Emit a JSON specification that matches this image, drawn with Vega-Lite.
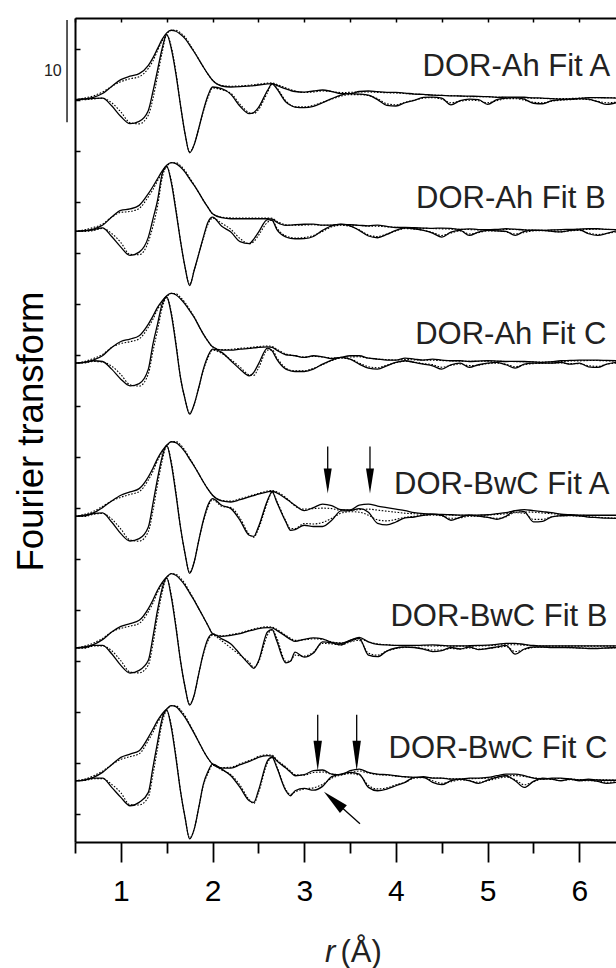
{
"$schema":"https://vega.github.io/schema/vega-lite/v6.json",
"width":541,"height":824,
"autosize":{"type":"none"},
"padding":{"left":75,"top":18,"right":0,"bottom":126},
"background":"white",
"config":{"view":{"stroke":null},"font":"Liberation Sans","axis":{"domainColor":"black","tickColor":"black","domainWidth":2,"tickWidth":1.5,"grid":false,"labelFont":"Liberation Sans","titleFont":"Liberation Sans","labelColor":"black","titleColor":"black"}},
"datasets":{
"ft":[
{"s":1,"r":0.5,"m":75,"n":75,"i":75,"j":75},
{"s":1,"r":0.6,"m":75.07,"n":75.15,"i":75.05,"j":75},
{"s":1,"r":0.7,"m":75.23,"n":75.38,"i":75.12,"j":75.07},
{"s":1,"r":0.8,"m":75.6,"n":75.75,"i":75.15,"j":75.15},
{"s":1,"r":0.9,"m":76.3,"n":76.3,"i":74.4,"j":74.7},
{"s":1,"r":1.0,"m":76.96,"n":76.76,"i":73.35,"j":73.8},
{"s":1,"r":1.1,"m":77.3,"n":77.05,"i":72.65,"j":72.75},
{"s":1,"r":1.2,"m":77.55,"n":77.25,"i":72.88,"j":72.63},
{"s":1,"r":1.3,"m":78.37,"n":78.07,"i":73.95,"j":73.5},
{"s":1,"r":1.35,"m":79.1,"n":78.8,"i":75.8,"j":75.1},
{"s":1,"r":1.4,"m":80.0,"n":79.8,"i":77.9,"j":77.3},
{"s":1,"r":1.45,"m":80.9,"n":80.75,"i":80.0,"j":79.6},
{"s":1,"r":1.5,"m":81.54,"n":81.44,"i":81.4,"j":81.3},
{"s":1,"r":1.55,"m":81.8,"n":81.8,"i":80.0,"j":80.2},
{"s":1,"r":1.6,"m":81.7,"n":81.8,"i":77.55,"j":77.75},
{"s":1,"r":1.65,"m":81.4,"n":81.55,"i":74.5,"j":74.5},
{"s":1,"r":1.7,"m":80.98,"n":81.13,"i":71.67,"j":71.67},
{"s":1,"r":1.75,"m":80.35,"n":80.45,"i":69.8,"j":69.9},
{"s":1,"r":1.8,"m":79.67,"n":79.72,"i":70.6,"j":70.6},
{"s":1,"r":1.85,"m":78.95,"n":78.95,"i":72.2,"j":72.2},
{"s":1,"r":1.9,"m":78.2,"n":78.2,"i":73.95,"j":73.85},
{"s":1,"r":1.95,"m":77.5,"n":77.5,"i":75.4,"j":75.2},
{"s":1,"r":2.0,"m":76.9,"n":76.9,"i":76.24,"j":76.14},
{"s":1,"r":2.1,"m":76.34,"n":76.39,"i":76.08,"j":75.98},
{"s":1,"r":2.2,"m":76.24,"n":76.32,"i":75.52,"j":75.62},
{"s":1,"r":2.3,"m":76.27,"n":76.35,"i":74.35,"j":74.55},
{"s":1,"r":2.4,"m":76.34,"n":76.42,"i":73.63,"j":73.73},
{"s":1,"r":2.45,"m":76.38,"n":76.46,"i":73.75,"j":73.65},
{"s":1,"r":2.5,"m":76.44,"n":76.52,"i":74.22,"j":74.02},
{"s":1,"r":2.6,"m":76.54,"n":76.62,"i":75.92,"j":75.72},
{"s":1,"r":2.65,"m":76.57,"n":76.65,"i":76.55,"j":76.55},
{"s":1,"r":2.7,"m":76.4,"n":76.5,"i":76.08,"j":76.18},
{"s":1,"r":2.8,"m":76.05,"n":76.15,"i":74.77,"j":74.87},
{"s":1,"r":2.85,"m":75.9,"n":75.98,"i":74.45,"j":74.5},
{"s":1,"r":2.9,"m":75.8,"n":75.85,"i":74.28,"j":74.3},
{"s":1,"r":3.0,"m":75.75,"n":75.7,"i":74.22,"j":74.3},
{"s":1,"r":3.1,"m":75.85,"n":75.75,"i":74.35,"j":74.45},
{"s":1,"r":3.2,"m":75.95,"n":75.85,"i":74.7,"j":74.75},
{"s":1,"r":3.3,"m":75.8,"n":75.8,"i":75.1,"j":75.05},
{"s":1,"r":3.4,"m":75.6,"n":75.7,"i":75.45,"j":75.35},
{"s":1,"r":3.5,"m":75.6,"n":75.72,"i":75.59,"j":75.5},
{"s":1,"r":3.6,"m":75.8,"n":75.75,"i":75.55,"j":75.5},
{"s":1,"r":3.7,"m":75.85,"n":75.75,"i":75.45,"j":75.4},
{"s":1,"r":3.8,"m":75.78,"n":75.72,"i":75.0,"j":75.1},
{"s":1,"r":3.9,"m":75.72,"n":75.68,"i":74.45,"j":74.6},
{"s":1,"r":4.0,"m":75.72,"n":75.65,"i":74.38,"j":74.5},
{"s":1,"r":4.1,"m":75.65,"n":75.6,"i":74.7,"j":74.75},
{"s":1,"r":4.2,"m":75.55,"n":75.55,"i":74.93,"j":74.95},
{"s":1,"r":4.3,"m":75.52,"n":75.5,"i":75.22,"j":75.15},
{"s":1,"r":4.4,"m":75.45,"n":75.45,"i":75.26,"j":75.2},
{"s":1,"r":4.5,"m":75.42,"n":75.42,"i":75.15,"j":75.05},
{"s":1,"r":4.6,"m":75.38,"n":75.4,"i":74.5,"j":74.7},
{"s":1,"r":4.7,"m":75.36,"n":75.36,"i":74.9,"j":74.85},
{"s":1,"r":4.8,"m":75.34,"n":75.3,"i":75.05,"j":74.95},
{"s":1,"r":4.9,"m":75.33,"n":75.3,"i":75.0,"j":74.9},
{"s":1,"r":5.0,"m":75.3,"n":75.28,"i":74.55,"j":74.7},
{"s":1,"r":5.1,"m":75.23,"n":75.25,"i":75.0,"j":74.9},
{"s":1,"r":5.2,"m":75.25,"n":75.22,"i":75.15,"j":75.1},
{"s":1,"r":5.3,"m":75.26,"n":75.2,"i":75.2,"j":75.1},
{"s":1,"r":5.4,"m":75.24,"n":75.18,"i":75.05,"j":74.95},
{"s":1,"r":5.5,"m":75.18,"n":75.15,"i":74.65,"j":74.75},
{"s":1,"r":5.6,"m":75.16,"n":75.12,"i":74.6,"j":74.7},
{"s":1,"r":5.7,"m":75.1,"n":75.1,"i":74.9,"j":74.85},
{"s":1,"r":5.8,"m":75.05,"n":75.1,"i":75.0,"j":74.95},
{"s":1,"r":5.9,"m":75.05,"n":75.12,"i":75.05,"j":75.0},
{"s":1,"r":6.0,"m":75.12,"n":75.15,"i":75.1,"j":75.05},
{"s":1,"r":6.1,"m":75.2,"n":75.18,"i":75.05,"j":75.0},
{"s":1,"r":6.2,"m":75.2,"n":75.2,"i":74.8,"j":74.85},
{"s":1,"r":6.3,"m":75.18,"n":75.2,"i":74.54,"j":74.7},
{"s":1,"r":6.4,"m":75.16,"n":75.18,"i":74.7,"j":74.75},
{"s":2,"r":0.5,"m":62.1,"n":62.1,"i":62.1,"j":62.1},
{"s":2,"r":0.6,"m":62.17,"n":62.25,"i":62.15,"j":62.1},
{"s":2,"r":0.7,"m":62.33,"n":62.48,"i":62.25,"j":62.18},
{"s":2,"r":0.8,"m":62.7,"n":62.82,"i":62.45,"j":62.4},
{"s":2,"r":0.9,"m":63.5,"n":63.5,"i":61.6,"j":61.9},
{"s":2,"r":1.0,"m":64.16,"n":63.96,"i":60.56,"j":61.01},
{"s":2,"r":1.1,"m":64.3,"n":64.05,"i":59.75,"j":59.85},
{"s":2,"r":1.2,"m":64.65,"n":64.35,"i":60.07,"j":59.82},
{"s":2,"r":1.3,"m":65.8,"n":65.5,"i":61.54,"j":61.09},
{"s":2,"r":1.35,"m":66.5,"n":66.2,"i":63.3,"j":62.6},
{"s":2,"r":1.4,"m":67.26,"n":67.06,"i":65.14,"j":64.54},
{"s":2,"r":1.45,"m":68.0,"n":67.85,"i":67.7,"j":67.3},
{"s":2,"r":1.5,"m":68.57,"n":68.47,"i":68.5,"j":68.4},
{"s":2,"r":1.55,"m":68.83,"n":68.83,"i":66.9,"j":67.1},
{"s":2,"r":1.6,"m":68.73,"n":68.83,"i":64.16,"j":64.36},
{"s":2,"r":1.65,"m":68.4,"n":68.55,"i":61.2,"j":61.2},
{"s":2,"r":1.7,"m":67.9,"n":68.05,"i":58.6,"j":58.6},
{"s":2,"r":1.75,"m":67.25,"n":67.35,"i":56.8,"j":56.9},
{"s":2,"r":1.8,"m":66.6,"n":66.65,"i":58.3,"j":58.3},
{"s":2,"r":1.85,"m":65.9,"n":65.9,"i":59.9,"j":59.9},
{"s":2,"r":1.9,"m":65.14,"n":65.14,"i":61.54,"j":61.44},
{"s":2,"r":1.95,"m":64.45,"n":64.45,"i":63.0,"j":62.8},
{"s":2,"r":2.0,"m":63.83,"n":63.83,"i":63.5,"j":63.4},
{"s":2,"r":2.1,"m":63.44,"n":63.49,"i":62.6,"j":62.9},
{"s":2,"r":2.2,"m":63.34,"n":63.42,"i":62.03,"j":62.3},
{"s":2,"r":2.3,"m":63.34,"n":63.42,"i":61.1,"j":61.4},
{"s":2,"r":2.4,"m":63.34,"n":63.42,"i":60.9,"j":60.9},
{"s":2,"r":2.45,"m":63.34,"n":63.42,"i":61.35,"j":61.1},
{"s":2,"r":2.5,"m":63.34,"n":63.42,"i":62.0,"j":61.7},
{"s":2,"r":2.6,"m":63.34,"n":63.42,"i":63.25,"j":63.0},
{"s":2,"r":2.65,"m":63.3,"n":63.38,"i":63.18,"j":63.2},
{"s":2,"r":2.7,"m":63.0,"n":63.1,"i":62.3,"j":62.45},
{"s":2,"r":2.8,"m":62.7,"n":62.75,"i":61.55,"j":61.65},
{"s":2,"r":2.85,"m":62.72,"n":62.7,"i":61.42,"j":61.5},
{"s":2,"r":2.9,"m":62.75,"n":62.7,"i":61.38,"j":61.45},
{"s":2,"r":3.0,"m":62.8,"n":62.72,"i":61.4,"j":61.5},
{"s":2,"r":3.1,"m":62.82,"n":62.75,"i":61.6,"j":61.7},
{"s":2,"r":3.2,"m":62.72,"n":62.7,"i":62.2,"j":62.1},
{"s":2,"r":3.3,"m":62.72,"n":62.7,"i":62.65,"j":62.55},
{"s":2,"r":3.4,"m":62.8,"n":62.75,"i":62.78,"j":62.7},
{"s":2,"r":3.5,"m":62.75,"n":62.72,"i":62.65,"j":62.6},
{"s":2,"r":3.6,"m":62.7,"n":62.68,"i":62.2,"j":62.25},
{"s":2,"r":3.7,"m":62.65,"n":62.62,"i":61.65,"j":61.75},
{"s":2,"r":3.8,"m":62.72,"n":62.6,"i":61.48,"j":61.6},
{"s":2,"r":3.9,"m":62.6,"n":62.55,"i":61.8,"j":61.85},
{"s":2,"r":4.0,"m":62.48,"n":62.5,"i":62.2,"j":62.15},
{"s":2,"r":4.1,"m":62.48,"n":62.45,"i":62.46,"j":62.38},
{"s":2,"r":4.2,"m":62.46,"n":62.42,"i":62.36,"j":62.32},
{"s":2,"r":4.3,"m":62.43,"n":62.4,"i":62.2,"j":62.2},
{"s":2,"r":4.4,"m":62.4,"n":62.38,"i":61.94,"j":62.0},
{"s":2,"r":4.5,"m":62.43,"n":62.35,"i":61.54,"j":61.7},
{"s":2,"r":4.6,"m":62.4,"n":62.32,"i":62.03,"j":61.95},
{"s":2,"r":4.7,"m":62.3,"n":62.3,"i":62.2,"j":62.15},
{"s":2,"r":4.8,"m":62.35,"n":62.28,"i":61.71,"j":61.85},
{"s":2,"r":4.9,"m":62.28,"n":62.25,"i":62.03,"j":61.98},
{"s":2,"r":5.0,"m":62.26,"n":62.25,"i":62.2,"j":62.15},
{"s":2,"r":5.1,"m":62.3,"n":62.25,"i":62.15,"j":62.15},
{"s":2,"r":5.2,"m":62.36,"n":62.28,"i":62.1,"j":62.05},
{"s":2,"r":5.3,"m":62.32,"n":62.28,"i":61.71,"j":61.85},
{"s":2,"r":5.4,"m":62.25,"n":62.25,"i":62.1,"j":62.0},
{"s":2,"r":5.5,"m":62.22,"n":62.22,"i":62.2,"j":62.15},
{"s":2,"r":5.6,"m":62.2,"n":62.2,"i":62.2,"j":62.18},
{"s":2,"r":5.7,"m":62.25,"n":62.22,"i":62.1,"j":62.1},
{"s":2,"r":5.8,"m":62.28,"n":62.25,"i":62.05,"j":62.05},
{"s":2,"r":5.9,"m":62.3,"n":62.28,"i":62.2,"j":62.15},
{"s":2,"r":6.0,"m":62.32,"n":62.3,"i":62.26,"j":62.2},
{"s":2,"r":6.1,"m":62.36,"n":62.3,"i":61.87,"j":61.95},
{"s":2,"r":6.2,"m":62.36,"n":62.32,"i":61.71,"j":61.8},
{"s":2,"r":6.3,"m":62.3,"n":62.3,"i":61.9,"j":61.9},
{"s":2,"r":6.4,"m":62.28,"n":62.28,"i":62.15,"j":62.05},
{"s":3,"r":0.5,"m":49.2,"n":49.2,"i":49.2,"j":49.2},
{"s":3,"r":0.6,"m":49.27,"n":49.35,"i":49.27,"j":49.22},
{"s":3,"r":0.7,"m":49.5,"n":49.65,"i":49.43,"j":49.36},
{"s":3,"r":0.8,"m":49.92,"n":50.04,"i":49.36,"j":49.31},
{"s":3,"r":0.9,"m":50.74,"n":50.74,"i":48.61,"j":48.91},
{"s":3,"r":1.0,"m":51.32,"n":51.12,"i":47.63,"j":48.08},
{"s":3,"r":1.1,"m":51.55,"n":51.3,"i":46.98,"j":47.08},
{"s":3,"r":1.2,"m":51.88,"n":51.58,"i":47.2,"j":46.95},
{"s":3,"r":1.3,"m":53.02,"n":52.72,"i":48.61,"j":48.16},
{"s":3,"r":1.35,"m":53.8,"n":53.5,"i":51.06,"j":50.36},
{"s":3,"r":1.4,"m":54.66,"n":54.46,"i":53.02,"j":52.42},
{"s":3,"r":1.45,"m":55.3,"n":55.15,"i":54.98,"j":54.58},
{"s":3,"r":1.5,"m":55.8,"n":55.7,"i":55.7,"j":55.6},
{"s":3,"r":1.55,"m":56.03,"n":56.03,"i":54.0,"j":54.2},
{"s":3,"r":1.6,"m":55.9,"n":56.0,"i":51.06,"j":51.26},
{"s":3,"r":1.65,"m":55.5,"n":55.65,"i":47.8,"j":47.8},
{"s":3,"r":1.7,"m":54.98,"n":55.13,"i":45.67,"j":45.67},
{"s":3,"r":1.75,"m":54.35,"n":54.45,"i":44.2,"j":44.3},
{"s":3,"r":1.8,"m":53.68,"n":53.73,"i":45.18,"j":45.18},
{"s":3,"r":1.85,"m":52.85,"n":52.85,"i":46.81,"j":46.81},
{"s":3,"r":1.9,"m":52.04,"n":52.04,"i":48.61,"j":48.51},
{"s":3,"r":1.95,"m":51.35,"n":51.35,"i":49.9,"j":49.7},
{"s":3,"r":2.0,"m":50.8,"n":50.8,"i":50.57,"j":50.47},
{"s":3,"r":2.1,"m":50.47,"n":50.52,"i":50.25,"j":50.15},
{"s":3,"r":2.2,"m":50.47,"n":50.55,"i":49.43,"j":49.53},
{"s":3,"r":2.3,"m":50.57,"n":50.65,"i":48.61,"j":48.81},
{"s":3,"r":2.4,"m":50.64,"n":50.72,"i":47.96,"j":48.06},
{"s":3,"r":2.45,"m":50.69,"n":50.77,"i":48.3,"j":48.0},
{"s":3,"r":2.5,"m":50.74,"n":50.82,"i":49.1,"j":48.7},
{"s":3,"r":2.6,"m":50.8,"n":50.88,"i":50.67,"j":50.47},
{"s":3,"r":2.65,"m":50.75,"n":50.83,"i":50.4,"j":50.5},
{"s":3,"r":2.7,"m":50.47,"n":50.57,"i":49.59,"j":49.75},
{"s":3,"r":2.8,"m":50.02,"n":50.1,"i":48.61,"j":48.72},
{"s":3,"r":2.85,"m":49.97,"n":50.0,"i":48.45,"j":48.5},
{"s":3,"r":2.9,"m":49.92,"n":49.92,"i":48.38,"j":48.45},
{"s":3,"r":3.0,"m":49.76,"n":49.8,"i":48.38,"j":48.45},
{"s":3,"r":3.1,"m":49.92,"n":49.85,"i":48.61,"j":48.7},
{"s":3,"r":3.2,"m":49.82,"n":49.8,"i":49.1,"j":49.05},
{"s":3,"r":3.3,"m":49.65,"n":49.7,"i":49.5,"j":49.45},
{"s":3,"r":3.4,"m":49.76,"n":49.75,"i":49.76,"j":49.68},
{"s":3,"r":3.5,"m":49.92,"n":49.8,"i":49.59,"j":49.6},
{"s":3,"r":3.6,"m":49.92,"n":49.82,"i":49.1,"j":49.2},
{"s":3,"r":3.7,"m":49.69,"n":49.7,"i":48.71,"j":48.85},
{"s":3,"r":3.8,"m":49.6,"n":49.6,"i":48.61,"j":48.75},
{"s":3,"r":3.9,"m":49.5,"n":49.55,"i":48.94,"j":49.0},
{"s":3,"r":4.0,"m":49.5,"n":49.5,"i":49.27,"j":49.25},
{"s":3,"r":4.1,"m":49.69,"n":49.55,"i":49.43,"j":49.38},
{"s":3,"r":4.2,"m":49.59,"n":49.52,"i":49.27,"j":49.3},
{"s":3,"r":4.3,"m":49.5,"n":49.5,"i":49.1,"j":49.15},
{"s":3,"r":4.4,"m":49.59,"n":49.48,"i":48.94,"j":49.05},
{"s":3,"r":4.5,"m":49.5,"n":49.45,"i":48.61,"j":48.8},
{"s":3,"r":4.6,"m":49.43,"n":49.42,"i":49.04,"j":48.98},
{"s":3,"r":4.7,"m":49.43,"n":49.4,"i":49.2,"j":49.12},
{"s":3,"r":4.8,"m":49.36,"n":49.38,"i":48.78,"j":48.95},
{"s":3,"r":4.9,"m":49.4,"n":49.38,"i":49.04,"j":49.0},
{"s":3,"r":5.0,"m":49.43,"n":49.38,"i":49.2,"j":49.15},
{"s":3,"r":5.1,"m":49.4,"n":49.38,"i":49.27,"j":49.2},
{"s":3,"r":5.2,"m":49.36,"n":49.36,"i":49.04,"j":49.1},
{"s":3,"r":5.3,"m":49.38,"n":49.35,"i":48.71,"j":48.85},
{"s":3,"r":5.4,"m":49.36,"n":49.34,"i":49.1,"j":49.05},
{"s":3,"r":5.5,"m":49.32,"n":49.32,"i":49.2,"j":49.15},
{"s":3,"r":5.6,"m":49.27,"n":49.3,"i":49.2,"j":49.18},
{"s":3,"r":5.7,"m":49.35,"n":49.32,"i":49.2,"j":49.2},
{"s":3,"r":5.8,"m":49.43,"n":49.35,"i":49.27,"j":49.22},
{"s":3,"r":5.9,"m":49.46,"n":49.4,"i":49.1,"j":49.15},
{"s":3,"r":6.0,"m":49.5,"n":49.42,"i":49.2,"j":49.15},
{"s":3,"r":6.1,"m":49.5,"n":49.45,"i":48.84,"j":48.95},
{"s":3,"r":6.2,"m":49.5,"n":49.45,"i":48.78,"j":48.88},
{"s":3,"r":6.3,"m":49.46,"n":49.42,"i":49.1,"j":49.1},
{"s":3,"r":6.4,"m":49.43,"n":49.4,"i":49.27,"j":49.2},
{"s":4,"r":0.5,"m":34.2,"n":34.2,"i":34.2,"j":34.2},
{"s":4,"r":0.6,"m":34.3,"n":34.38,"i":34.23,"j":34.18},
{"s":4,"r":0.7,"m":34.53,"n":34.68,"i":34.46,"j":34.39},
{"s":4,"r":0.8,"m":35.05,"n":35.17,"i":34.53,"j":34.48},
{"s":4,"r":0.9,"m":35.7,"n":35.7,"i":33.64,"j":33.94},
{"s":4,"r":1.0,"m":36.26,"n":36.06,"i":32.5,"j":32.95},
{"s":4,"r":1.1,"m":36.59,"n":36.34,"i":31.78,"j":31.88},
{"s":4,"r":1.2,"m":36.91,"n":36.61,"i":32.01,"j":31.76},
{"s":4,"r":1.3,"m":38.06,"n":37.76,"i":33.15,"j":32.7},
{"s":4,"r":1.35,"m":38.9,"n":38.6,"i":35.44,"j":34.74},
{"s":4,"r":1.4,"m":39.85,"n":39.65,"i":37.9,"j":37.3},
{"s":4,"r":1.45,"m":40.6,"n":40.45,"i":40.0,"j":39.6},
{"s":4,"r":1.5,"m":41.16,"n":41.06,"i":41.16,"j":41.06},
{"s":4,"r":1.55,"m":41.5,"n":41.5,"i":39.36,"j":39.56},
{"s":4,"r":1.6,"m":41.42,"n":41.52,"i":36.42,"j":36.62},
{"s":4,"r":1.65,"m":41.05,"n":41.2,"i":33.15,"j":33.15},
{"s":4,"r":1.7,"m":40.5,"n":40.65,"i":30.54,"j":30.54},
{"s":4,"r":1.75,"m":39.8,"n":39.9,"i":28.6,"j":28.7},
{"s":4,"r":1.8,"m":39.1,"n":39.15,"i":29.72,"j":29.72},
{"s":4,"r":1.85,"m":38.35,"n":38.35,"i":31.85,"j":31.85},
{"s":4,"r":1.9,"m":37.57,"n":37.57,"i":33.81,"j":33.71},
{"s":4,"r":1.95,"m":36.85,"n":36.85,"i":35.3,"j":35.1},
{"s":4,"r":2.0,"m":36.26,"n":36.26,"i":35.93,"j":35.83},
{"s":4,"r":2.1,"m":35.7,"n":35.75,"i":35.28,"j":35.18},
{"s":4,"r":2.2,"m":35.6,"n":35.68,"i":34.95,"j":35.05},
{"s":4,"r":2.3,"m":35.83,"n":35.91,"i":33.81,"j":34.01},
{"s":4,"r":2.4,"m":36.1,"n":36.18,"i":32.34,"j":32.44},
{"s":4,"r":2.45,"m":36.23,"n":36.31,"i":32.24,"j":32.14},
{"s":4,"r":2.5,"m":36.36,"n":36.44,"i":33.15,"j":32.95},
{"s":4,"r":2.6,"m":36.59,"n":36.67,"i":35.77,"j":35.57},
{"s":4,"r":2.65,"m":36.65,"n":36.73,"i":36.59,"j":36.59},
{"s":4,"r":2.7,"m":36.49,"n":36.59,"i":35.6,"j":35.7},
{"s":4,"r":2.8,"m":35.93,"n":36.03,"i":33.64,"j":33.74},
{"s":4,"r":2.85,"m":35.6,"n":35.62,"i":32.83,"j":33.0},
{"s":4,"r":2.9,"m":35.28,"n":35.2,"i":32.9,"j":33.0},
{"s":4,"r":3.0,"m":34.75,"n":34.9,"i":33.32,"j":33.5},
{"s":4,"r":3.1,"m":35.05,"n":34.95,"i":33.2,"j":33.45},
{"s":4,"r":3.2,"m":35.4,"n":35.0,"i":33.2,"j":33.6},
{"s":4,"r":3.3,"m":35.25,"n":34.95,"i":33.8,"j":34.0},
{"s":4,"r":3.4,"m":34.85,"n":34.8,"i":34.72,"j":34.5},
{"s":4,"r":3.5,"m":34.82,"n":34.8,"i":34.75,"j":34.65},
{"s":4,"r":3.6,"m":35.3,"n":34.85,"i":34.95,"j":34.6},
{"s":4,"r":3.7,"m":35.4,"n":34.9,"i":34.6,"j":34.3},
{"s":4,"r":3.8,"m":35.2,"n":34.8,"i":33.5,"j":33.85},
{"s":4,"r":3.9,"m":35.05,"n":34.7,"i":33.35,"j":33.75},
{"s":4,"r":4.0,"m":34.9,"n":34.6,"i":33.64,"j":33.9},
{"s":4,"r":4.1,"m":34.75,"n":34.5,"i":34.05,"j":34.1},
{"s":4,"r":4.2,"m":34.55,"n":34.45,"i":34.13,"j":34.2},
{"s":4,"r":4.3,"m":34.45,"n":34.4,"i":34.3,"j":34.3},
{"s":4,"r":4.4,"m":34.4,"n":34.38,"i":34.4,"j":34.32},
{"s":4,"r":4.5,"m":34.38,"n":34.35,"i":34.3,"j":34.25},
{"s":4,"r":4.6,"m":34.35,"n":34.32,"i":33.81,"j":34.0},
{"s":4,"r":4.7,"m":34.32,"n":34.3,"i":34.1,"j":34.05},
{"s":4,"r":4.8,"m":34.3,"n":34.3,"i":34.3,"j":34.2},
{"s":4,"r":4.9,"m":34.32,"n":34.3,"i":34.22,"j":34.2},
{"s":4,"r":5.0,"m":34.35,"n":34.32,"i":34.1,"j":34.1},
{"s":4,"r":5.1,"m":34.45,"n":34.38,"i":33.9,"j":34.0},
{"s":4,"r":5.2,"m":34.55,"n":34.45,"i":34.2,"j":34.15},
{"s":4,"r":5.3,"m":34.75,"n":34.58,"i":34.75,"j":34.55},
{"s":4,"r":5.4,"m":34.85,"n":34.62,"i":34.65,"j":34.5},
{"s":4,"r":5.5,"m":34.75,"n":34.6,"i":33.65,"j":33.9},
{"s":4,"r":5.6,"m":34.65,"n":34.52,"i":33.7,"j":33.9},
{"s":4,"r":5.7,"m":34.55,"n":34.45,"i":34.15,"j":34.15},
{"s":4,"r":5.8,"m":34.4,"n":34.38,"i":34.25,"j":34.25},
{"s":4,"r":5.9,"m":34.35,"n":34.32,"i":34.3,"j":34.25},
{"s":4,"r":6.0,"m":34.32,"n":34.3,"i":34.25,"j":34.22},
{"s":4,"r":6.1,"m":34.3,"n":34.28,"i":34.12,"j":34.15},
{"s":4,"r":6.2,"m":34.3,"n":34.28,"i":34.07,"j":34.1},
{"s":4,"r":6.3,"m":34.3,"n":34.28,"i":34.02,"j":34.05},
{"s":4,"r":6.4,"m":34.3,"n":34.28,"i":34.0,"j":34.02},
{"s":5,"r":0.5,"m":21.3,"n":21.3,"i":21.3,"j":21.3},
{"s":5,"r":0.6,"m":21.4,"n":21.48,"i":21.33,"j":21.28},
{"s":5,"r":0.7,"m":21.63,"n":21.78,"i":21.56,"j":21.49},
{"s":5,"r":0.8,"m":22.12,"n":22.24,"i":21.56,"j":21.51},
{"s":5,"r":0.9,"m":22.87,"n":22.87,"i":20.74,"j":21.04},
{"s":5,"r":1.0,"m":23.42,"n":23.22,"i":19.6,"j":20.05},
{"s":5,"r":1.1,"m":23.69,"n":23.44,"i":18.85,"j":18.95},
{"s":5,"r":1.2,"m":24.01,"n":23.71,"i":19.11,"j":18.86},
{"s":5,"r":1.3,"m":25.16,"n":24.86,"i":20.09,"j":19.64},
{"s":5,"r":1.35,"m":26.0,"n":25.7,"i":22.38,"j":21.68},
{"s":5,"r":1.4,"m":26.95,"n":26.75,"i":25.0,"j":24.4},
{"s":5,"r":1.45,"m":27.7,"n":27.55,"i":27.12,"j":26.72},
{"s":5,"r":1.5,"m":28.26,"n":28.16,"i":28.2,"j":28.1},
{"s":5,"r":1.55,"m":28.59,"n":28.59,"i":26.3,"j":26.5},
{"s":5,"r":1.6,"m":28.42,"n":28.52,"i":23.36,"j":23.56},
{"s":5,"r":1.65,"m":28.0,"n":28.15,"i":20.09,"j":20.09},
{"s":5,"r":1.7,"m":27.44,"n":27.59,"i":17.48,"j":17.48},
{"s":5,"r":1.75,"m":26.7,"n":26.8,"i":15.7,"j":15.8},
{"s":5,"r":1.8,"m":25.97,"n":26.02,"i":16.7,"j":16.7},
{"s":5,"r":1.85,"m":25.15,"n":25.15,"i":18.8,"j":18.8},
{"s":5,"r":1.9,"m":24.34,"n":24.34,"i":20.8,"j":20.7},
{"s":5,"r":1.95,"m":23.5,"n":23.5,"i":22.2,"j":22.0},
{"s":5,"r":2.0,"m":22.7,"n":22.75,"i":22.65,"j":22.55},
{"s":5,"r":2.1,"m":22.44,"n":22.49,"i":22.2,"j":22.0},
{"s":5,"r":2.2,"m":22.54,"n":22.62,"i":21.7,"j":21.3},
{"s":5,"r":2.3,"m":22.7,"n":22.78,"i":20.7,"j":20.6},
{"s":5,"r":2.4,"m":22.97,"n":23.05,"i":19.7,"j":19.9},
{"s":5,"r":2.45,"m":23.08,"n":23.16,"i":19.3,"j":19.4},
{"s":5,"r":2.5,"m":23.2,"n":23.28,"i":20.0,"j":19.9},
{"s":5,"r":2.6,"m":23.3,"n":23.38,"i":22.9,"j":22.6},
{"s":5,"r":2.65,"m":23.26,"n":23.34,"i":23.1,"j":23.1},
{"s":5,"r":2.7,"m":23.03,"n":23.13,"i":22.0,"j":22.3},
{"s":5,"r":2.8,"m":22.44,"n":22.54,"i":19.85,"j":20.0},
{"s":5,"r":2.85,"m":22.15,"n":22.25,"i":20.0,"j":20.05},
{"s":5,"r":2.9,"m":21.95,"n":22.05,"i":20.9,"j":20.6},
{"s":5,"r":3.0,"m":22.15,"n":22.1,"i":20.4,"j":20.5},
{"s":5,"r":3.1,"m":22.3,"n":22.2,"i":20.8,"j":20.9},
{"s":5,"r":3.2,"m":22.2,"n":22.15,"i":21.9,"j":21.75},
{"s":5,"r":3.3,"m":21.85,"n":21.9,"i":21.8,"j":21.7},
{"s":5,"r":3.4,"m":21.75,"n":21.8,"i":21.6,"j":21.6},
{"s":5,"r":3.5,"m":22.05,"n":21.95,"i":22.05,"j":21.9},
{"s":5,"r":3.6,"m":22.35,"n":22.2,"i":22.25,"j":22.05},
{"s":5,"r":3.7,"m":21.9,"n":21.9,"i":20.6,"j":20.8},
{"s":5,"r":3.8,"m":21.65,"n":21.7,"i":20.45,"j":20.6},
{"s":5,"r":3.9,"m":21.6,"n":21.62,"i":21.0,"j":21.0},
{"s":5,"r":4.0,"m":21.55,"n":21.55,"i":21.3,"j":21.25},
{"s":5,"r":4.1,"m":21.55,"n":21.52,"i":21.4,"j":21.35},
{"s":5,"r":4.2,"m":21.55,"n":21.52,"i":21.35,"j":21.35},
{"s":5,"r":4.3,"m":21.58,"n":21.52,"i":21.2,"j":21.25},
{"s":5,"r":4.4,"m":21.6,"n":21.5,"i":20.95,"j":21.1},
{"s":5,"r":4.5,"m":21.55,"n":21.5,"i":21.05,"j":21.1},
{"s":5,"r":4.6,"m":21.5,"n":21.48,"i":21.35,"j":21.25},
{"s":5,"r":4.7,"m":21.5,"n":21.48,"i":21.2,"j":21.2},
{"s":5,"r":4.8,"m":21.52,"n":21.48,"i":21.4,"j":21.3},
{"s":5,"r":4.9,"m":21.55,"n":21.5,"i":21.15,"j":21.2},
{"s":5,"r":5.0,"m":21.58,"n":21.52,"i":21.25,"j":21.25},
{"s":5,"r":5.1,"m":21.65,"n":21.58,"i":21.4,"j":21.35},
{"s":5,"r":5.2,"m":21.75,"n":21.62,"i":21.55,"j":21.45},
{"s":5,"r":5.3,"m":21.75,"n":21.62,"i":20.7,"j":20.95},
{"s":5,"r":5.4,"m":21.65,"n":21.58,"i":21.2,"j":21.15},
{"s":5,"r":5.5,"m":21.55,"n":21.52,"i":21.4,"j":21.35},
{"s":5,"r":5.6,"m":21.5,"n":21.5,"i":21.4,"j":21.38},
{"s":5,"r":5.7,"m":21.5,"n":21.48,"i":21.35,"j":21.35},
{"s":5,"r":5.8,"m":21.5,"n":21.48,"i":21.35,"j":21.35},
{"s":5,"r":5.9,"m":21.5,"n":21.48,"i":21.35,"j":21.33},
{"s":5,"r":6.0,"m":21.5,"n":21.48,"i":21.3,"j":21.3},
{"s":5,"r":6.1,"m":21.5,"n":21.48,"i":21.25,"j":21.28},
{"s":5,"r":6.2,"m":21.5,"n":21.48,"i":21.25,"j":21.28},
{"s":5,"r":6.3,"m":21.5,"n":21.48,"i":21.3,"j":21.3},
{"s":5,"r":6.4,"m":21.5,"n":21.48,"i":21.35,"j":21.32},
{"s":6,"r":0.5,"m":8.3,"n":8.3,"i":8.3,"j":8.3},
{"s":6,"r":0.6,"m":8.37,"n":8.45,"i":8.37,"j":8.32},
{"s":6,"r":0.7,"m":8.63,"n":8.78,"i":8.56,"j":8.49},
{"s":6,"r":0.8,"m":9.12,"n":9.24,"i":8.56,"j":8.51},
{"s":6,"r":0.9,"m":9.87,"n":9.87,"i":7.65,"j":7.95},
{"s":6,"r":1.0,"m":10.59,"n":10.39,"i":6.67,"j":7.12},
{"s":6,"r":1.1,"m":10.91,"n":10.66,"i":5.85,"j":5.95},
{"s":6,"r":1.2,"m":11.24,"n":10.94,"i":6.18,"j":5.93},
{"s":6,"r":1.3,"m":12.55,"n":12.25,"i":7.16,"j":6.71},
{"s":6,"r":1.35,"m":13.35,"n":13.05,"i":9.61,"j":8.91},
{"s":6,"r":1.4,"m":14.18,"n":13.98,"i":12.06,"j":11.46},
{"s":6,"r":1.45,"m":14.85,"n":14.7,"i":14.35,"j":13.95},
{"s":6,"r":1.5,"m":15.33,"n":15.23,"i":15.23,"j":15.13},
{"s":6,"r":1.55,"m":15.65,"n":15.65,"i":13.53,"j":13.73},
{"s":6,"r":1.6,"m":15.55,"n":15.65,"i":10.59,"j":10.79},
{"s":6,"r":1.65,"m":15.1,"n":15.25,"i":7.32,"j":7.32},
{"s":6,"r":1.7,"m":14.5,"n":14.65,"i":4.7,"j":4.7},
{"s":6,"r":1.75,"m":13.75,"n":13.85,"i":2.6,"j":2.7},
{"s":6,"r":1.8,"m":12.94,"n":12.99,"i":3.56,"j":3.56},
{"s":6,"r":1.85,"m":12.1,"n":12.1,"i":5.69,"j":5.69},
{"s":6,"r":1.9,"m":11.24,"n":11.24,"i":7.97,"j":7.87},
{"s":6,"r":1.95,"m":10.5,"n":10.5,"i":9.2,"j":9.0},
{"s":6,"r":2.0,"m":9.93,"n":9.93,"i":9.93,"j":9.83},
{"s":6,"r":2.1,"m":9.54,"n":9.59,"i":9.44,"j":9.34},
{"s":6,"r":2.2,"m":9.54,"n":9.62,"i":8.79,"j":8.89},
{"s":6,"r":2.3,"m":9.87,"n":9.95,"i":7.65,"j":7.85},
{"s":6,"r":2.4,"m":10.2,"n":10.28,"i":6.34,"j":6.44},
{"s":6,"r":2.45,"m":10.38,"n":10.46,"i":6.18,"j":6.08},
{"s":6,"r":2.5,"m":10.59,"n":10.67,"i":7.32,"j":7.12},
{"s":6,"r":2.6,"m":10.75,"n":10.83,"i":10.26,"j":10.06},
{"s":6,"r":2.65,"m":10.72,"n":10.8,"i":10.6,"j":10.6},
{"s":6,"r":2.7,"m":10.26,"n":10.36,"i":9.61,"j":9.71},
{"s":6,"r":2.8,"m":9.54,"n":9.64,"i":7.32,"j":7.42},
{"s":6,"r":2.85,"m":9.15,"n":9.25,"i":6.83,"j":6.95},
{"s":6,"r":2.9,"m":8.79,"n":8.9,"i":7.32,"j":7.2},
{"s":6,"r":3.0,"m":8.9,"n":8.85,"i":7.55,"j":7.5},
{"s":6,"r":3.1,"m":9.28,"n":9.1,"i":7.38,"j":7.6},
{"s":6,"r":3.2,"m":9.35,"n":9.15,"i":7.75,"j":7.95},
{"s":6,"r":3.3,"m":8.95,"n":8.95,"i":8.7,"j":8.55},
{"s":6,"r":3.4,"m":8.9,"n":8.9,"i":8.95,"j":8.85},
{"s":6,"r":3.5,"m":9.28,"n":9.1,"i":9.12,"j":9.0},
{"s":6,"r":3.6,"m":9.44,"n":9.25,"i":8.95,"j":8.85},
{"s":6,"r":3.7,"m":9.12,"n":9.05,"i":7.65,"j":7.85},
{"s":6,"r":3.8,"m":8.95,"n":8.9,"i":7.32,"j":7.5},
{"s":6,"r":3.9,"m":8.89,"n":8.85,"i":7.48,"j":7.6},
{"s":6,"r":4.0,"m":8.79,"n":8.75,"i":7.81,"j":7.9},
{"s":6,"r":4.1,"m":8.69,"n":8.68,"i":8.14,"j":8.15},
{"s":6,"r":4.2,"m":8.63,"n":8.62,"i":8.63,"j":8.55},
{"s":6,"r":4.3,"m":8.69,"n":8.62,"i":8.63,"j":8.6},
{"s":6,"r":4.4,"m":8.56,"n":8.58,"i":8.14,"j":8.3},
{"s":6,"r":4.5,"m":8.56,"n":8.55,"i":7.91,"j":8.05},
{"s":6,"r":4.6,"m":8.46,"n":8.5,"i":8.3,"j":8.2},
{"s":6,"r":4.7,"m":8.46,"n":8.48,"i":8.46,"j":8.38},
{"s":6,"r":4.8,"m":8.56,"n":8.5,"i":8.3,"j":8.3},
{"s":6,"r":4.9,"m":8.56,"n":8.52,"i":8.04,"j":8.15},
{"s":6,"r":5.0,"m":8.63,"n":8.55,"i":8.37,"j":8.3},
{"s":6,"r":5.1,"m":8.79,"n":8.65,"i":8.63,"j":8.52},
{"s":6,"r":5.2,"m":8.95,"n":8.78,"i":8.79,"j":8.65},
{"s":6,"r":5.3,"m":8.95,"n":8.8,"i":8.3,"j":8.4},
{"s":6,"r":5.4,"m":8.79,"n":8.72,"i":7.65,"j":7.9},
{"s":6,"r":5.5,"m":8.56,"n":8.6,"i":8.23,"j":8.2},
{"s":6,"r":5.6,"m":8.46,"n":8.5,"i":8.56,"j":8.45},
{"s":6,"r":5.7,"m":8.56,"n":8.5,"i":8.46,"j":8.42},
{"s":6,"r":5.8,"m":8.56,"n":8.52,"i":8.3,"j":8.32},
{"s":6,"r":5.9,"m":8.46,"n":8.48,"i":8.46,"j":8.4},
{"s":6,"r":6.0,"m":8.37,"n":8.42,"i":8.3,"j":8.32},
{"s":6,"r":6.1,"m":8.46,"n":8.42,"i":8.37,"j":8.3},
{"s":6,"r":6.2,"m":8.37,"n":8.4,"i":8.23,"j":8.28},
{"s":6,"r":6.3,"m":8.35,"n":8.38,"i":8.04,"j":8.15},
{"s":6,"r":6.4,"m":8.35,"n":8.35,"i":8.14,"j":8.2}
],
"labels":[
{"t":"DOR-Ah Fit A","r":4.29,"val":77.3},
{"t":"DOR-Ah Fit B","r":4.22,"val":64.4},
{"t":"DOR-Ah Fit C","r":4.21,"val":51.1},
{"t":"DOR-BwC Fit A","r":3.98,"val":36.4},
{"t":"DOR-BwC Fit B","r":3.94,"val":23.5},
{"t":"DOR-BwC Fit C","r":3.92,"val":10.5}
],
"rules":[
{"r":3.256,"val":41.04,"r2":3.256,"val2":37.0},
{"r":3.717,"val":41.04,"r2":3.717,"val2":37.0},
{"r":3.147,"val":14.76,"r2":3.147,"val2":10.0},
{"r":3.572,"val":14.76,"r2":3.572,"val2":10.0},
{"r":3.608,"val":4.08,"r2":3.3,"val2":6.55},
{"r":0.413,"val":72.8,"r2":0.413,"val2":82.8}
],
"headsA":[{"r":3.256,"val":36.43},{"r":3.717,"val":36.43}],
"headsC":[{"r":3.147,"val":9.27},{"r":3.572,"val":9.27}],
"headD":[{"r":3.215,"val":7.22}],
"scale":[{"t":"10","r":0.355,"val":77.8}],
"xt":[{"t":"r","r":3.34,"val":-9.45}],
"xu":[{"t":"(Å)","r":3.395,"val":-9.45}]
},
"encoding":{"y":{"field":"val","type":"quantitative","scale":{"domain":[2.3,83.0],"nice":false,"zero":false},
"axis":{"orient":"left","values":[5,10,15,20,25,30,35,40,45,50,55,60,65,70,75,80],"tickSize":-5,"labels":false,"title":"Fourier transform","titleFontSize":36.5,"titleFontWeight":"normal","titleAngle":-90,"titleBaseline":"alphabetic","titleAlign":"center","titleX":-33,"titleY":413}}},
"resolve":{"axis":{"x":"independent"}},
"layer":[
{"data":{"name":"ft"},"transform":[{"fold":["m","i"],"as":["curve","val"]}],
"mark":{"type":"line","interpolate":"monotone","color":"black","strokeWidth":1.3},
"encoding":{"x":{"field":"r","type":"quantitative","scale":{"domain":[0.5,6.4],"nice":false,"zero":false},
"axis":{"orient":"bottom","values":[0.5,1,1.5,2,2.5,3,3.5,4,4.5,5,5.5,6],"labelExpr":"datum.value % 1 === 0 ? format(datum.value, 'd') : ''","tickSize":{"condition":{"test":"datum.value % 1 === 0","value":20},"value":11},"tickWidth":1.8,"labelFontSize":30,"labelPadding":14,"labelOverlap":false,"title":null}},
"detail":[{"field":"s","type":"nominal"},{"field":"curve","type":"nominal"}]}},
{"data":{"name":"ft"},"transform":[{"fold":["n","j"],"as":["curve","val"]}],
"mark":{"type":"line","interpolate":"monotone","color":"black","strokeWidth":1.1,"strokeDash":[1.6,1.6]},
"encoding":{"x":{"field":"r","type":"quantitative","scale":{"domain":[0.5,6.4],"nice":false,"zero":false},
"axis":{"orient":"top","values":[0.5,1,1.5,2,2.5,3,3.5,4,4.5,5,5.5,6],"labels":false,"tickSize":-4,"title":null}},
"detail":[{"field":"s","type":"nominal"},{"field":"curve","type":"nominal"}]}},
{"data":{"name":"labels"},"mark":{"type":"text","align":"left","baseline":"alphabetic","fontSize":31,"font":"Liberation Sans","color":"#222"},
"encoding":{"x":{"field":"r","type":"quantitative","scale":{"domain":[0.5,6.4],"nice":false,"zero":false},"axis":null},"text":{"field":"t"}}},
{"data":{"name":"rules"},"mark":{"type":"rule","color":"black","strokeWidth":1.3},
"encoding":{"x":{"field":"r","type":"quantitative","scale":{"domain":[0.5,6.4],"nice":false,"zero":false},"axis":null},"x2":{"field":"r2"},"y2":{"field":"val2"}}},
{"data":{"name":"headsA"},"mark":{"type":"point","shape":"M0,0L-0.16,-1L0.16,-1Z","filled":true,"color":"black","opacity":1,"size":2500,"strokeWidth":0},
"encoding":{"x":{"field":"r","type":"quantitative","scale":{"domain":[0.5,6.4],"nice":false,"zero":false},"axis":null}}},
{"data":{"name":"headsC"},"mark":{"type":"point","shape":"M0,0L-0.14,-1L0.14,-1Z","filled":true,"color":"black","opacity":1,"size":3600,"strokeWidth":0},
"encoding":{"x":{"field":"r","type":"quantitative","scale":{"domain":[0.5,6.4],"nice":false,"zero":false},"axis":null}}},
{"data":{"name":"headD"},"mark":{"type":"point","shape":"M0,0L-0.2,-1L0.2,-1Z","filled":true,"color":"black","opacity":1,"size":2704,"strokeWidth":0,"angle":131.6},
"encoding":{"x":{"field":"r","type":"quantitative","scale":{"domain":[0.5,6.4],"nice":false,"zero":false},"axis":null}}},
{"data":{"name":"scale"},"mark":{"type":"text","align":"right","baseline":"middle","fontSize":16,"font":"Liberation Sans","color":"#222"},
"encoding":{"x":{"field":"r","type":"quantitative","scale":{"domain":[0.5,6.4],"nice":false,"zero":false},"axis":null},"text":{"field":"t"}}},
{"data":{"name":"xt"},"mark":{"type":"text","align":"right","baseline":"alphabetic","fontSize":31,"fontStyle":"italic","font":"Liberation Sans","color":"#222"},
"encoding":{"x":{"field":"r","type":"quantitative","scale":{"domain":[0.5,6.4],"nice":false,"zero":false},"axis":null},"text":{"field":"t"}}},
{"data":{"name":"xu"},"mark":{"type":"text","align":"left","baseline":"alphabetic","fontSize":31,"font":"Liberation Sans","color":"#222"},
"encoding":{"x":{"field":"r","type":"quantitative","scale":{"domain":[0.5,6.4],"nice":false,"zero":false},"axis":null},"text":{"field":"t"}}}
]
}
